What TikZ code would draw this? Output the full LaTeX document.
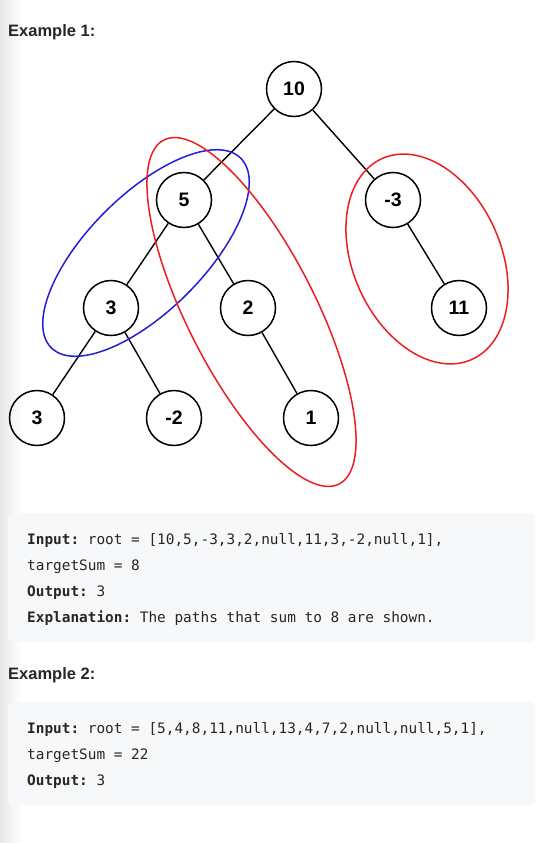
\documentclass[tikz,border=0pt]{standalone}
\usepackage{fontspec}
\setsansfont{Liberation Sans}
\setmonofont{DejaVu Sans Mono}
\usetikzlibrary{shapes.geometric}

\definecolor{pathred}{RGB}{235,30,35}
\definecolor{pathblue}{RGB}{35,30,215}
\definecolor{codebg}{RGB}{247,248,250}
\definecolor{ink}{RGB}{38,38,38}

\tikzset{
  treenode/.style={circle, draw, line width=1.5pt, minimum size=55pt, inner sep=0pt,
    font=\sffamily\bfseries\fontsize{19.5}{19.5}\selectfont},
  treeedge/.style={line width=1.4pt},
  pathring/.style={ellipse, draw, line width=1.5pt, inner sep=0pt},
  heading/.style={anchor=base west, inner sep=0pt, text=ink,
    font=\sffamily\bfseries\fontsize{16.5}{16.5}\selectfont},
  codeline/.style={anchor=base west, inner sep=0pt, text=ink,
    font=\ttfamily\fontsize{14.4}{14.4}\selectfont},
  codebox/.style={fill=codebg, rounded corners=5pt}
}

\begin{document}
\begin{tikzpicture}[x=1pt, y=-1pt]
    \useasboundingbox (0,0) rectangle (536,843);
    \fill[white] (0,0) rectangle (536,843);
    \shade[left color=black!9, right color=white] (0,0) rectangle (22,843);

    % Beispiel 1
    \node (ex1) [heading] at (8,37) {Example 1:};

    % Baum
    \node (n10) [treenode] at (294,89) {10};
    \node (n5)  [treenode] at (184,200) {5};
    \node (nm3) [treenode] at (393,200) {-3};
    \node (n3)  [treenode] at (111,308) {3};
    \node (n2)  [treenode] at (248,308) {2};
    \node (n11) [treenode] at (459,308) {11};
    \node (n3b) [treenode] at (37,418) {3};
    \node (nm2) [treenode] at (174,418) {-2};
    \node (n1)  [treenode] at (311,418) {1};

    \draw[treeedge] (n10) -- (n5);
    \draw[treeedge] (n10) -- (nm3);
    \draw[treeedge] (n5) -- (n3);
    \draw[treeedge] (n5) -- (n2);
    \draw[treeedge] (nm3) -- (n11);
    \draw[treeedge] (n3) -- (n3b);
    \draw[treeedge] (n3) -- (nm2);
    \draw[treeedge] (n2) -- (n1);

    % Pfade mit Summe 8
    \node (pblue) [pathring, draw=pathblue, minimum width=268pt, minimum height=116pt, rotate=45] at (146,253) {};
    \node (pred)  [pathring, draw=pathred, minimum width=386pt, minimum height=128pt, rotate=-63] at (251.5,312) {};
    \node (pright) [pathring, draw=pathred, minimum width=220pt, minimum height=148pt, rotate=-66] at (427,259) {};

    % Code 1
    \fill[codebox] (8,513) rectangle (535,642);
    \node (in1)  [codeline] at (27,544) {\textbf{Input:} root = [10,5,-3,3,2,null,11,3,-2,null,1],};
    \node (ts1)  [codeline] at (27,570) {targetSum = 8};
    \node (out1) [codeline] at (27,596) {\textbf{Output:} 3};
    \node (exp1) [codeline] at (27,622) {\textbf{Explanation:} The paths that sum to 8 are shown.};

    % Beispiel 2
    \node (ex2) [heading] at (8,679) {Example 2:};
    \fill[codebox] (8,702) rectangle (535,805);
    \node (in2)  [codeline] at (27,733) {\textbf{Input:} root = [5,4,8,11,null,13,4,7,2,null,null,5,1],};
    \node (ts2)  [codeline] at (27,759) {targetSum = 22};
    \node (out2) [codeline] at (27,785) {\textbf{Output:} 3};
\end{tikzpicture}
\end{document}
